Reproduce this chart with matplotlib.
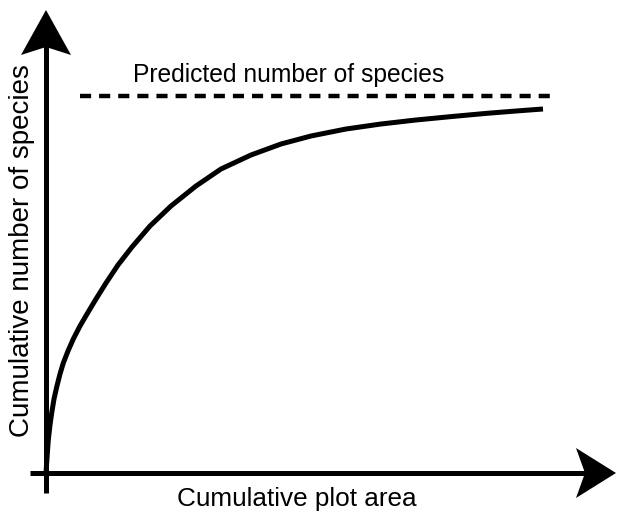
import matplotlib
matplotlib.use("Agg")
import matplotlib.pyplot as plt
from matplotlib.patches import Polygon
import numpy as np

plt.rcParams['font.family'] = ['Liberation Sans', 'DejaVu Sans']

# species accumulation curve (plot area vs cumulative species)
area = [0, 0.02, 0.046, 0.08, 0.114, 0.16, 0.214, 0.28, 0.346, 0.44, 0.546,
        0.68, 0.82, 1.0, 1.2, 1.44, 1.72, 2.08, 2.5, 3.0, 3.5, 4.1, 4.7, 5.3,
        6.0, 6.7, 7.4, 8.1, 8.8, 9.4, 9.94]
species = [0, 0.375, 0.825, 1.2, 1.5, 1.85, 2.15, 2.475, 2.75, 3.05, 3.35,
           3.675, 3.975, 4.35, 4.75, 5.2, 5.65, 6.175, 6.675, 7.175, 7.6, 7.95,
           8.225, 8.425, 8.6, 8.725, 8.825, 8.91, 8.99, 9.05, 9.1]

predicted = 9.42
predicted_span = [0.68, 10.22]

xlabel = "Cumulative plot area"
ylabel = "Cumulative number of species"
pred_label = "Predicted number of species"

# data units <-> pixels: 50 px per x unit, 40 px per y unit
px_x, px_y = 50.0, 40.0

fig = plt.figure(figsize=(6.18, 5.12), dpi=100)
ax = fig.add_axes([0, 0, 1, 1])
ax.set_xlim(-46 / px_x, 572 / px_x)
ax.set_ylim(-39 / px_y, 473 / px_y)
ax.axis('off')

lw = 3.6

# axes lines
x_end = 11.4
y_end = 11.575
ax.plot([-0.32, x_end - 30 / px_x], [0, 0], color='black', lw=lw, solid_capstyle='butt')
ax.plot([0, 0], [-0.5, y_end - 30 / px_y], color='black', lw=lw, solid_capstyle='butt')


def arrow_head(tip, direction, length=42, width=50, notch=9):
    # notched arrow head, sizes in pixels
    tx, ty = tip
    if direction == 'up':
        pts = [(tx, ty),
               (tx - width / 2 / px_x, ty - length / px_y),
               (tx, ty - (length - notch) / px_y),
               (tx + width / 2 / px_x, ty - length / px_y)]
    else:
        pts = [(tx, ty),
               (tx - length / px_x, ty + width / 2 / px_y),
               (tx - (length - notch) / px_x, ty),
               (tx - length / px_x, ty - width / 2 / px_y)]
    ax.add_patch(Polygon(pts, closed=True, color='black', lw=0))


arrow_head((0, y_end), 'up', length=45, width=50, notch=8)
arrow_head((x_end, 0), 'right', length=40, width=50, notch=9)

# curve
ax.plot(area, species, color='black', lw=lw, solid_capstyle='butt',
        solid_joinstyle='round')

# predicted asymptote
ax.plot(predicted_span, [predicted, predicted], color='black', lw=3.2,
        linestyle=(0, (2.5, 1.8)), dash_capstyle='butt')
ax.text(np.mean([133 / px_x - 0.92, 444 / px_x - 0.92]), predicted + 21 / px_y,
        pred_label, ha='center', va='center', fontsize=17.7)

# axis labels
ax.text(297 / px_x - 0.92, -26 / px_y, xlabel, ha='center', va='center', fontsize=18.8)
ax.text(-24 / px_x, (473 - 251) / px_y, ylabel, ha='center', va='center',
        rotation=90, fontsize=20)

fig.savefig("out.png", dpi=100)
